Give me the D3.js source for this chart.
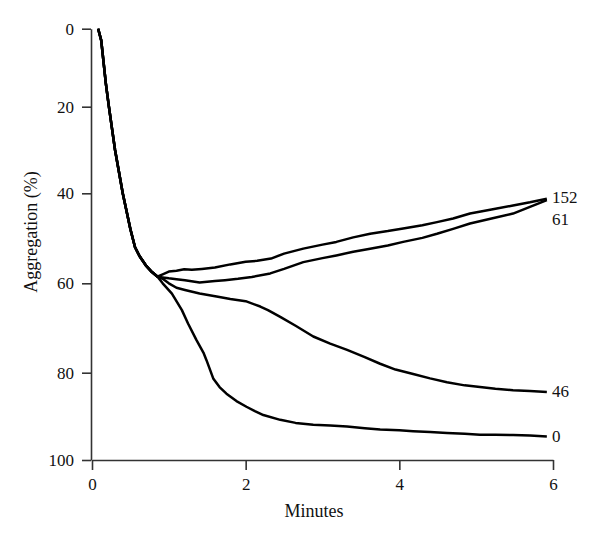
<!DOCTYPE html>
<html>
<head>
<meta charset="utf-8">
<script src="https://cdn.jsdelivr.net/npm/d3@7"></script>
<style>
  body { margin: 0; background: #fff; }
  svg text { font-family: "Liberation Serif", "DejaVu Serif", serif; fill: #111; }
</style>
</head>
<body>
<svg id="chart" width="600" height="543"></svg>
<script>
// shared early part of every trace (minutes, aggregation %)
var startTime = [0.08, 0.12, 0.18, 0.22, 0.26, 0.30, 0.34, 0.40, 0.45, 0.50, 0.56, 0.62, 0.70, 0.78, 0.85];
var startVals = [0, 3, 14, 20, 25, 30, 34, 40, 44, 48, 52, 54, 56, 57.5, 58.5];

// after the traces split
var time152 = [0.92, 1.0, 1.1, 1.2, 1.3, 1.43, 1.6, 1.8, 2.0, 2.15, 2.33, 2.5, 2.75, 3.0, 3.18, 3.4, 3.62, 3.85, 4.05, 4.3, 4.49, 4.7, 4.92, 5.2, 5.48, 5.7, 5.92];
var vals152 = [58, 57.4, 57.2, 56.9, 57, 56.8, 56.5, 55.8, 55.2, 55, 54.5, 53.4, 52.3, 51.4, 50.8, 49.8, 49.0, 48.4, 47.8, 47.1, 46.4, 45.6, 44.5, 43.6, 42.7, 42, 41.2];

var time61 = [0.92, 1.0, 1.1, 1.21, 1.4, 1.6, 1.73, 1.9, 2.08, 2.32, 2.5, 2.75, 3.0, 3.18, 3.4, 3.62, 3.85, 4.05, 4.3, 4.49, 4.7, 4.92, 5.2, 5.48, 5.7, 5.92];
var vals61 = [58.7, 58.9, 59.1, 59.3, 59.8, 59.5, 59.3, 59, 58.6, 57.8, 56.8, 55.3, 54.4, 53.8, 53, 52.3, 51.6, 50.8, 49.9, 49, 47.9, 46.7, 45.6, 44.5, 43, 41.5];

var time46 = [0.92, 1.0, 1.1, 1.21, 1.4, 1.64, 1.8, 2.0, 2.19, 2.29, 2.45, 2.65, 2.88, 3.1, 3.32, 3.55, 3.75, 3.95, 4.18, 4.4, 4.62, 4.85, 5.05, 5.25, 5.48, 5.7, 5.92];
var vals46 = [59, 60, 61, 61.5, 62.3, 63, 63.5, 64, 65.2, 66, 67.5, 69.5, 71.9, 73.5, 74.9, 76.5, 78, 79.3, 80.3, 81.3, 82.2, 82.9, 83.3, 83.7, 84, 84.2, 84.4];

var time0 = [0.92, 1.04, 1.17, 1.25, 1.36, 1.45, 1.49, 1.58, 1.66, 1.75, 1.88, 2.01, 2.12, 2.23, 2.45, 2.65, 2.88, 3.1, 3.32, 3.55, 3.75, 4.0, 4.18, 4.4, 4.62, 4.85, 5.05, 5.25, 5.48, 5.7, 5.92];
var vals0 = [60, 62.3, 66, 69, 72.7, 75.5, 77.2, 81.4, 83.3, 84.8, 86.5, 87.8, 88.8, 89.7, 90.8, 91.5, 91.9, 92.1, 92.3, 92.7, 93, 93.2, 93.4, 93.6, 93.8, 94, 94.2, 94.2, 94.3, 94.4, 94.6];

var seriesNames = ["152", "61", "46", "0"];
var xTicks = [0, 2, 4, 6];
var yTicks = [0, 20, 40, 60, 80, 100];

var svg = d3.select("#chart");

var x = d3.scaleLinear().domain([0, 6]).range([92, 553]);
// the printed axis is not evenly spaced, so map each tick to where it sits
var y = d3.scaleLinear().domain(yTicks).range([28.7, 106.7, 193.3, 283.3, 372.7, 460]);

function build(times, vals)
{
  var pts = [];
  startTime.forEach(function(t, i){ pts.push([t, startVals[i]]); });
  times.forEach(function(t, i){ pts.push([t, vals[i]]); });
  return pts;
}

var series = [
  build(time152, vals152),
  build(time61, vals61),
  build(time46, vals46),
  build(time0, vals0)
];

//axes
svg.append("g")
  .attr("transform", "translate(0,460)")
  .call(d3.axisBottom(x).tickValues(xTicks).tickFormat(d3.format("d")).tickSize(10).tickPadding(8).tickSizeOuter(0));

svg.append("g")
  .attr("transform", "translate(91,0)")
  .call(d3.axisLeft(y).tickValues(yTicks).tickFormat(d3.format("d")).tickSize(9).tickPadding(8).tickSizeOuter(0));

svg.selectAll(".domain, .tick line")
  .attr("stroke", "#333")
  .attr("stroke-width", 1.6);

svg.selectAll(".tick text")
  .style("font-family", "Liberation Serif")
  .style("font-size", "17px")
  .attr("fill", "#111");

//traces
var line = d3.line()
  .x(function(d){ return x(d[0]); })
  .y(function(d){ return y(d[1]); });

svg.append("g").selectAll("path")
  .data(series)
  .enter()
  .append("path")
  .attr("d", line)
  .attr("fill", "none")
  .attr("stroke", "#000")
  .attr("stroke-width", 2.5)
  .attr("stroke-linejoin", "round");

//end labels, 61 is pushed down so it clears 152
var labelDrop = { "152": 4.5, "61": 25, "46": 5, "0": 5.5 };

svg.append("g").selectAll("text")
  .data(series)
  .enter()
  .append("text")
  .attr("x", function(d){ return x(6) - 1; })
  .attr("y", function(d, i){ return y(d[d.length - 1][1]) + labelDrop[seriesNames[i]]; })
  .style("font-size", "17px")
  .text(function(d, i){ return seriesNames[i]; });

//titles
svg.append("text")
  .attr("x", 314)
  .attr("y", 517)
  .attr("text-anchor", "middle")
  .style("font-size", "18px")
  .text("Minutes");

svg.append("text")
  .attr("transform", "translate(37,232) rotate(-90)")
  .attr("text-anchor", "middle")
  .style("font-size", "18px")
  .text("Aggregation (%)");
</script>
</body>
</html>
